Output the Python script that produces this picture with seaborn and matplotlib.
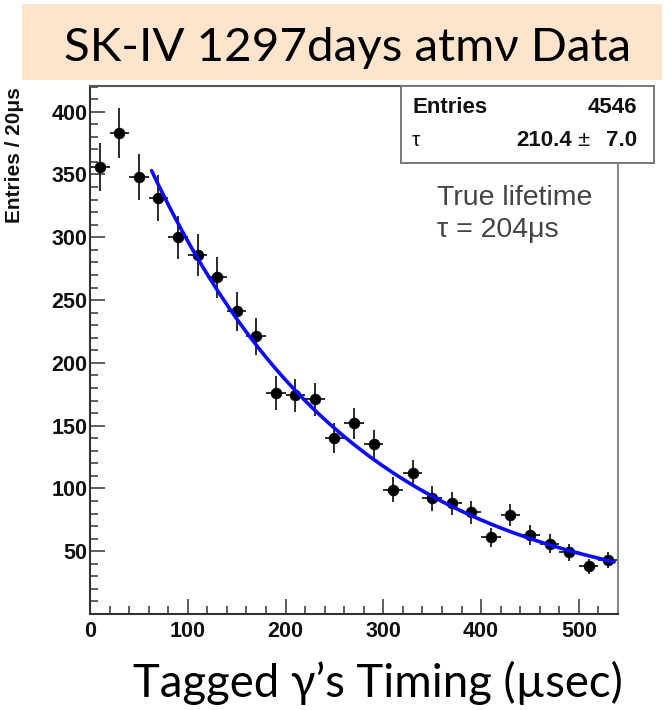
import numpy as np
import pandas as pd
import matplotlib
matplotlib.use("Agg")
import matplotlib.pyplot as plt
import seaborn as sns
from matplotlib.patches import Rectangle
from matplotlib.ticker import MultipleLocator

# ---------------- data ----------------
bin_centers = [10, 30, 50, 70, 90, 110, 130, 150, 170, 190, 210, 230, 250, 270,
               290, 310, 330, 350, 370, 390, 410, 430, 450, 470, 490, 510, 530]
counts = [356, 383, 348, 331, 300, 286, 268, 241, 221, 176, 174, 171, 140, 152,
          135, 99, 112, 92, 88, 81, 61, 79, 63, 56, 49, 38, 43]
bin_half_width = 10

fit_amp = 470.0
fit_tau = 210.4
fit_const = 4.7
fit_start, fit_end = 63, 536

x_ticks = [0, 100, 200, 300, 400, 500]
x_tick_labels = ["0", "100", "200", "300", "400", "500"]
y_ticks = [50, 100, 150, 200, 250, 300, 350, 400]
y_tick_labels = ["50", "100", "150", "200", "250", "300", "350", "400"]

title_text = "SK-IV 1297days atmν Data"
xlabel_text = "Tagged γ’s Timing (µsec)"
ylabel_text = "Entries / 20μs"
stats_entries_label = "Entries"
stats_entries_value = "4546"
stats_tau_label = "τ"
stats_tau_value = "210.4"
stats_tau_error = "7.0"
note_lines = ["True lifetime", "τ = 204μs"]

# ---------------- style ----------------
sns.set_theme(style="white")
plt.rcParams["font.family"] = ["Liberation Sans", "DejaVu Sans"]

W, H = 671, 710
fig = plt.figure(figsize=(W / 100, H / 100), dpi=100)


def fx(px):
    return px / W


def fy(py):
    return 1 - py / H


ax_left, ax_right, ax_top, ax_bottom = 90, 618, 85.7, 614
ax = fig.add_axes([fx(ax_left), fy(ax_bottom), (ax_right - ax_left) / W,
                   (ax_bottom - ax_top) / H])

df = pd.DataFrame({"t": bin_centers, "n": counts})
df["err"] = np.sqrt(df["n"])

ax.errorbar(df["t"], df["n"], yerr=df["err"], xerr=bin_half_width, fmt="none",
            ecolor="#1a1a1a", elinewidth=1.3, capsize=0, zorder=2)
sns.scatterplot(data=df, x="t", y="n", ax=ax, color="black", s=60,
                marker="o", edgecolor="black", linewidth=0.5, zorder=3)

xf = np.linspace(fit_start, fit_end, 300)
fit_df = pd.DataFrame({"t": xf,
                       "f": fit_amp * np.exp(-xf / fit_tau) + fit_const})
sns.lineplot(data=fit_df, x="t", y="f", ax=ax, color="#0a0aff", lw=2.6,
             zorder=4, sort=False, estimator=None)

ax.set_xlim(0, 540)
ax.set_ylim(0, 420.7)
ax.set_xlabel("")
ax.set_ylabel("")

tick_font = dict(fontsize=15.5, fontweight="bold", color="#111111")
ax.set_xticks(x_ticks, labels=x_tick_labels, **tick_font)
ax.set_yticks(y_ticks, labels=y_tick_labels, **tick_font)
ax.xaxis.set_minor_locator(MultipleLocator(20))
ax.yaxis.set_minor_locator(MultipleLocator(10))
ax.tick_params(axis="both", which="both", direction="in", color="#333333",
               top=False, right=False, left=True, bottom=True)
ax.tick_params(axis="both", which="major", length=11, width=1.1)
ax.tick_params(axis="both", which="minor", length=5.5, width=1.1)
ax.tick_params(axis="x", which="major", pad=5)
ax.tick_params(axis="y", which="major", pad=2)

for side, col in [("left", "#333333"), ("bottom", "#333333"),
                  ("top", "#555555"), ("right", "#888888")]:
    ax.spines[side].set_visible(True)
    ax.spines[side].set_color(col)
    ax.spines[side].set_linewidth(1.5)

# ---------------- title banner ----------------
fig.add_artist(Rectangle((fx(22), fy(80)), (662 - 22) / W, (80 - 4) / H,
                         transform=fig.transFigure, facecolor="#fce4cd",
                         edgecolor="none", zorder=0))
fig.text(fx(348), fy(61), title_text, ha="center", va="baseline",
         fontsize=34.2, family=["Lato", "Open Sans"], color="black")

# ---------------- axis titles ----------------
fig.text(fx(378), fy(697), xlabel_text, ha="center", va="baseline",
         fontsize=32.8, family=["Lato", "Open Sans"], color="black")
fig.text(fx(15), fy(87), ylabel_text, rotation=90, ha="center", va="top",
         fontsize=15, fontweight="bold", color="#111111")

# ---------------- stats box ----------------
fig.add_artist(Rectangle((fx(400.7), fy(163.3)), (654 - 400.7) / W,
                         (163.3 - 85.7) / H, transform=fig.transFigure,
                         facecolor="white", edgecolor="#777777", lw=1.4,
                         zorder=5))
fig.text(fx(413), fy(113), stats_entries_label, ha="left", va="baseline",
         fontsize=16, fontweight="bold", color="#111111", zorder=6)
fig.text(fx(637), fy(113), stats_entries_value, ha="right", va="baseline",
         fontsize=16, fontweight="bold", color="#111111", zorder=6)
fig.text(fx(412), fy(146), stats_tau_label, ha="left", va="baseline",
         fontsize=15, color="#111111", zorder=6)
fig.text(fx(572), fy(146), stats_tau_value, ha="right", va="baseline",
         fontsize=16, fontweight="bold", color="#111111", zorder=6)
fig.text(fx(583), fy(146), "±", ha="center", va="baseline",
         fontsize=16, color="#111111", zorder=6)
fig.text(fx(637), fy(146), stats_tau_error, ha="right", va="baseline",
         fontsize=16, fontweight="bold", color="#111111", zorder=6)

# ---------------- annotation ----------------
fig.text(fx(437), fy(205), note_lines[0], ha="left", va="baseline",
         fontsize=20.5, color="#444444")
fig.text(fx(437), fy(237), note_lines[1], ha="left", va="baseline",
         fontsize=20.5, color="#444444")

fig.savefig("out.png", dpi=100, facecolor="white")
